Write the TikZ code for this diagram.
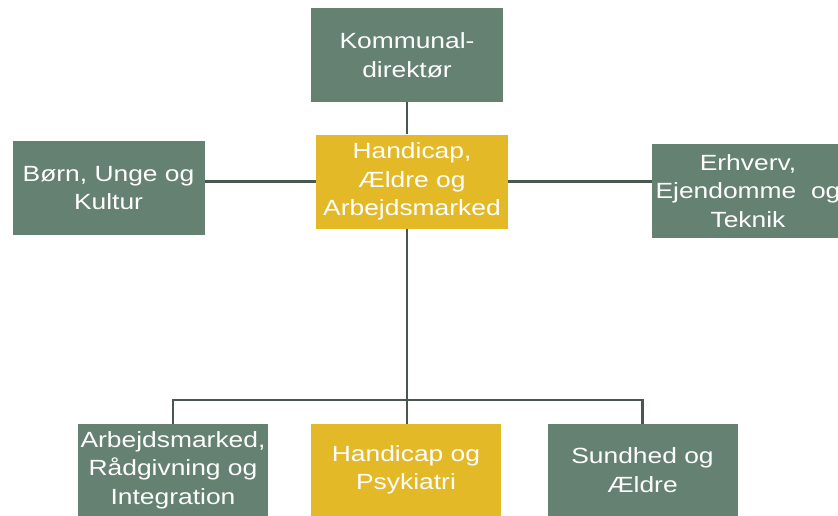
\documentclass[tikz,border=0pt]{standalone}
\usepackage{fontspec}
\setmainfont[FakeStretch=1.2]{Liberation Sans}
\definecolor{unitgreen}{RGB}{101,129,113}
\definecolor{unityellow}{RGB}{227,185,40}
\definecolor{linegray}{RGB}{72,88,78}

\begin{document}
\begin{tikzpicture}
[
    x=1pt, y=-1pt,
    unit/.style={fill=unitgreen, text=white, align=center, inner sep=0pt,
        minimum width=192pt, minimum height=94pt,
        font=\fontsize{22}{28.5}\selectfont},
    focus/.style={unit, fill=unityellow},
    link/.style={draw=linegray, line width=2.6pt},
]
\clip (0,0) rectangle (838,515);
\fill[white] (0,0) rectangle (838,515);
\node [unit] (komm) at (407,55) {Kommunal-\\direktør};
\node [focus] (hae) at (412,181.5) {Handicap,\\Ældre og\\Arbejdsmarked};
\node [unit] (buk) at (108.5,188) {Børn, Unge og\\Kultur};
\node [unit] (eet) at (748,191) {Erhverv,\\Ejendomme\ \ og\\Teknik};
\node [unit, minimum width=190pt, minimum height=92pt] (arb) at (173,470)
    {Arbejdsmarked,\\Rådgivning og\\Integration};
\node [focus, minimum width=190pt, minimum height=92pt] (hap) at (406,470)
    {Handicap og\\Psykiatri};
\node [unit, minimum width=190pt, minimum height=92pt] (sae) at (642.5,470)
    {Sundhed og\\Ældre};
\coordinate (bar) at (407,400);
\draw [link] (komm.south) -- (komm.south |- hae.north);
\draw [link] (hae.west) -- (hae.west -| buk.east);
\draw [link] (hae.east) -- (hae.east -| eet.west);
\draw [link] (bar |- hae.south) -- (bar);
\draw [link] (bar) -| (arb.north);
\draw [link] (bar) -| (sae.north);
\draw [link] (bar) -- (bar |- hap.north);
\end{tikzpicture}
\end{document}
